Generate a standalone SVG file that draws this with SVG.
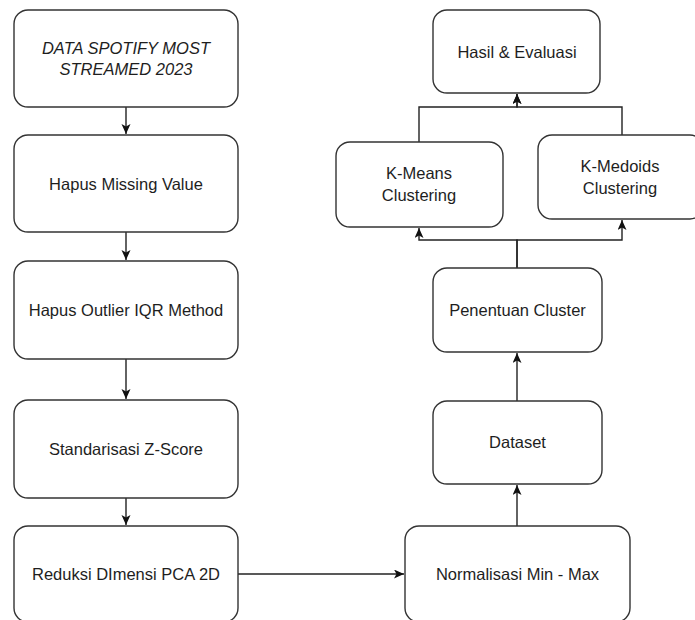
<svg xmlns="http://www.w3.org/2000/svg" width="695" height="620" viewBox="0 0 695 620">
  <defs>
    <marker id="arr" markerUnits="userSpaceOnUse" markerWidth="12" markerHeight="10" refX="10" refY="4.5" orient="auto">
      <path d="M0,0 L10,4.5 L0,9 L2.5,4.5 Z" fill="#111"/>
    </marker>
    <style>
      .box { fill: #ffffff; stroke: #333333; stroke-width: 1.4; }
      .lbl { font-family: "Liberation Sans", Arial, sans-serif; font-size: 16.5px; fill: #1e1e1e; text-anchor: middle; dominant-baseline: central; }
      .it { font-style: italic; }
      .edge { fill: none; stroke: #222222; stroke-width: 1.4; }
    </style>
  </defs>
  <rect width="695" height="620" fill="#ffffff"/>

  <g id="connectors">
    <path class="edge" d="M126,107 V134" marker-end="url(#arr)"/>
    <path class="edge" d="M126,232 V260" marker-end="url(#arr)"/>
    <path class="edge" d="M126,359 V399" marker-end="url(#arr)"/>
    <path class="edge" d="M126,498 V525" marker-end="url(#arr)"/>
    <path class="edge" d="M238,574 H404" marker-end="url(#arr)"/>
    <path class="edge" d="M517,526 V485" marker-end="url(#arr)"/>
    <path class="edge" d="M517,401 V353" marker-end="url(#arr)"/>
    <path class="edge" d="M517,268 V240 H419 V228" marker-end="url(#arr)"/>
    <path class="edge" d="M517,268 V240 H622 V220" marker-end="url(#arr)"/>
    <path class="edge" d="M419,142 V107 H517 V94" marker-end="url(#arr)"/>
    <path class="edge" d="M622,135 V107 H517 V94" marker-end="url(#arr)"/>
  </g>

  <g id="n-data">
    <rect class="box" x="14" y="10" width="224" height="97" rx="14"/>
    <text class="lbl it" x="126" y="48">DATA SPOTIFY MOST</text>
    <text class="lbl it" x="126" y="69">STREAMED 2023</text>
  </g>
  <g id="n-missing">
    <rect class="box" x="14" y="135" width="224" height="97" rx="14"/>
    <text class="lbl" x="126" y="184">Hapus Missing Value</text>
  </g>
  <g id="n-outlier">
    <rect class="box" x="14" y="261" width="224" height="98" rx="14"/>
    <text class="lbl" x="126" y="310">Hapus Outlier IQR Method</text>
  </g>
  <g id="n-zscore">
    <rect class="box" x="14" y="400" width="224" height="98" rx="14"/>
    <text class="lbl" x="126" y="449">Standarisasi Z-Score</text>
  </g>
  <g id="n-pca">
    <rect class="box" x="14" y="526" width="224" height="96" rx="14"/>
    <text class="lbl" x="126" y="574">Reduksi DImensi PCA 2D</text>
  </g>
  <g id="n-minmax">
    <rect class="box" x="405" y="526" width="225" height="96" rx="14"/>
    <text class="lbl" x="517.5" y="574">Normalisasi Min - Max</text>
  </g>
  <g id="n-dataset">
    <rect class="box" x="433" y="401" width="169" height="83" rx="14"/>
    <text class="lbl" x="517.5" y="442">Dataset</text>
  </g>
  <g id="n-penentuan">
    <rect class="box" x="433" y="268" width="169" height="84" rx="14"/>
    <text class="lbl" x="517.5" y="310">Penentuan Cluster</text>
  </g>
  <g id="n-kmeans">
    <rect class="box" x="336" y="142" width="167" height="85" rx="14"/>
    <text class="lbl" x="419" y="173">K-Means</text>
    <text class="lbl" x="419" y="195">Clustering</text>
  </g>
  <g id="n-kmedoids">
    <rect class="box" x="538" y="135" width="166" height="84" rx="14"/>
    <text class="lbl" x="620" y="166">K-Medoids</text>
    <text class="lbl" x="620" y="188">Clustering</text>
  </g>
  <g id="n-hasil">
    <rect class="box" x="433" y="10" width="167" height="83" rx="14"/>
    <text class="lbl" x="517" y="52">Hasil &amp; Evaluasi</text>
  </g>
</svg>
